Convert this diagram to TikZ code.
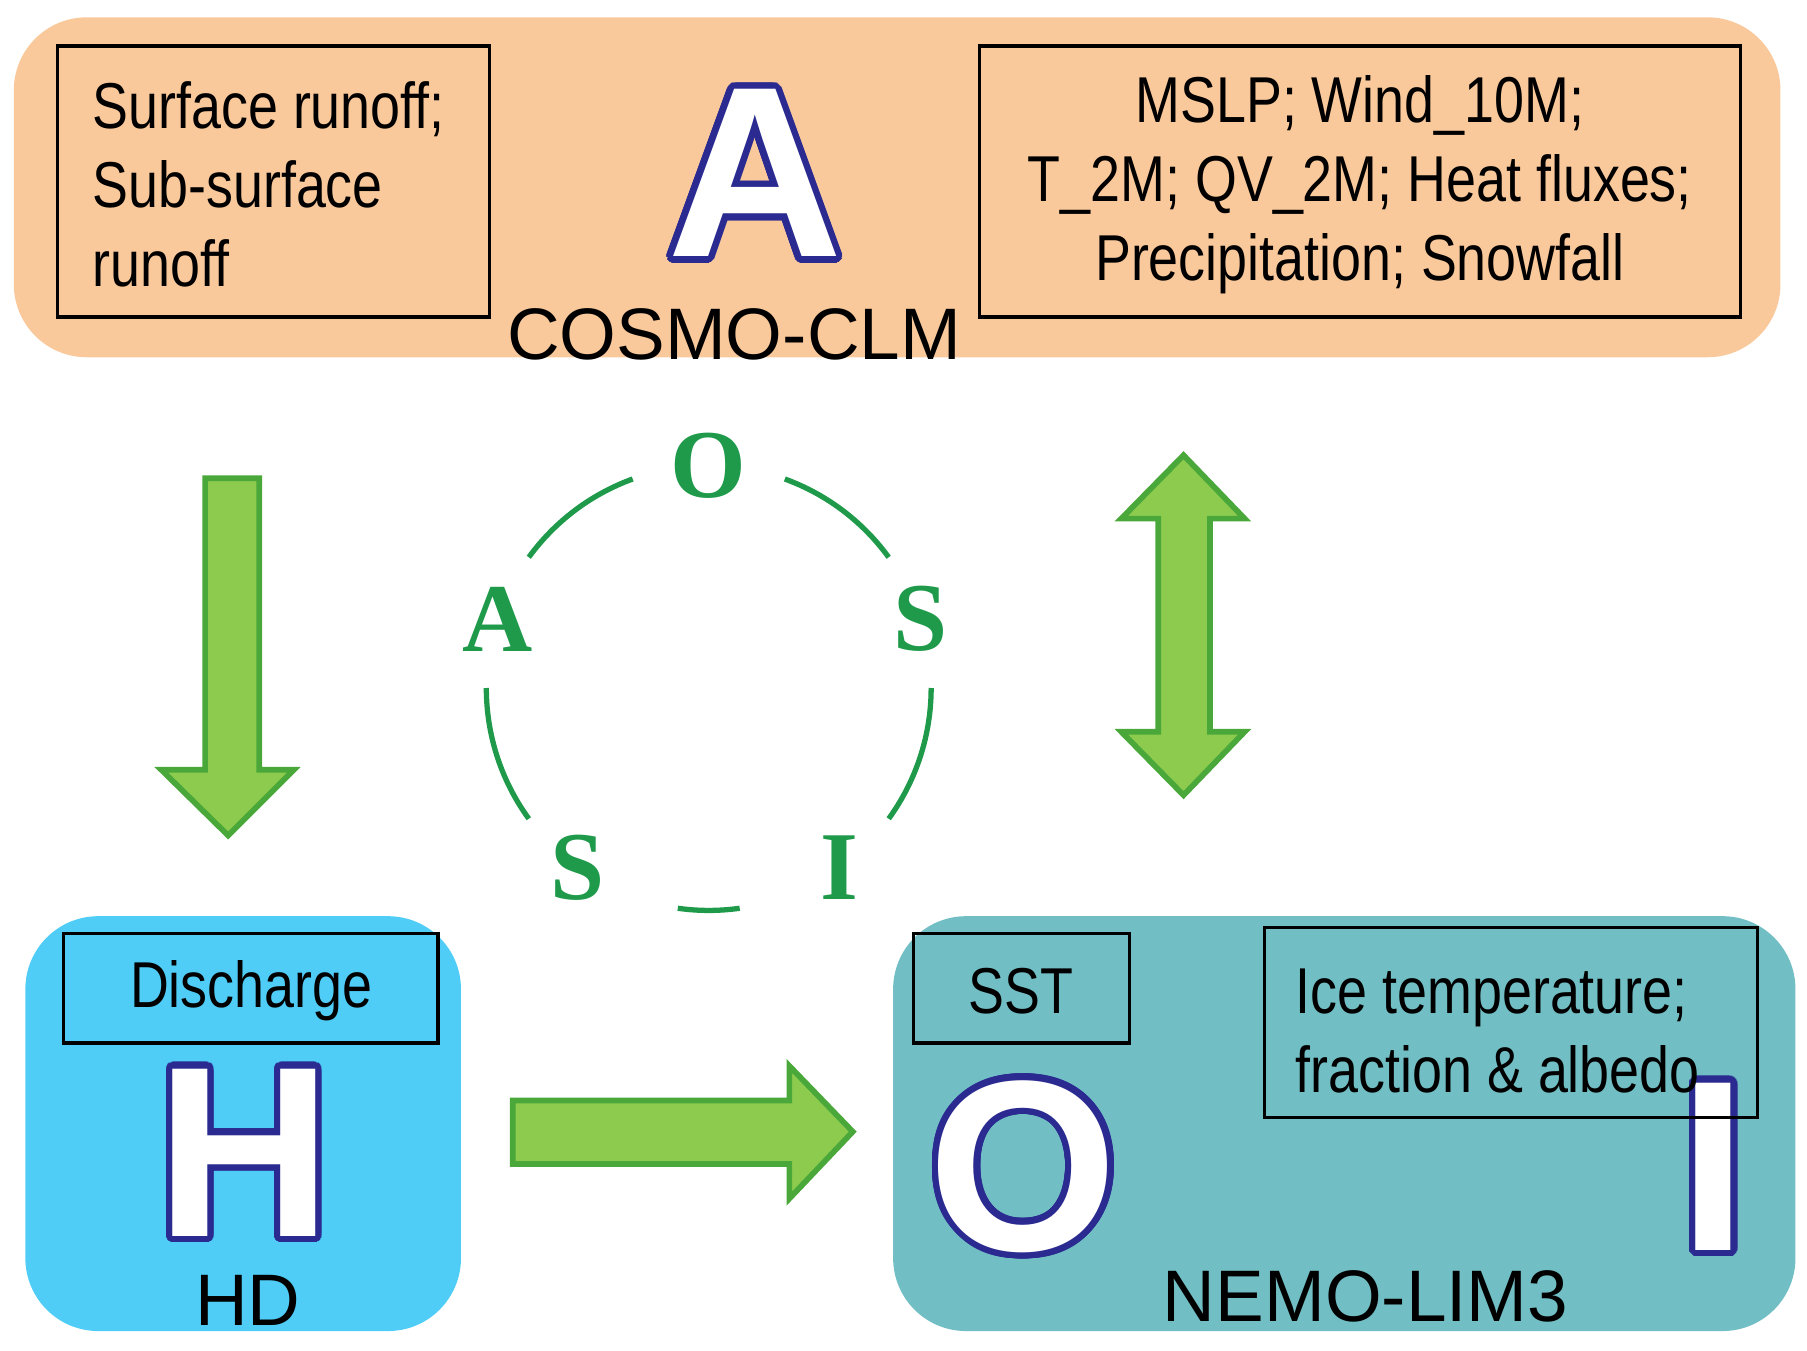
\documentclass[tikz,border=0pt]{standalone}
\usepackage{fontspec}
\setmainfont{Liberation Sans}
\newfontfamily\narrowsf{Liberation Sans}[FakeStretch=0.83]
\newfontfamily\oasisrm{Liberation Serif}
\usepackage{contour}
\usetikzlibrary{positioning,calc}
\definecolor{atmos}{HTML}{F9C89B}
\definecolor{hdblue}{HTML}{4FCDF7}
\definecolor{ocean}{HTML}{71BEC4}
\definecolor{oasisgreen}{HTML}{1E9A4A}
\definecolor{arrowfill}{HTML}{8CCB4E}
\definecolor{arrowline}{HTML}{4AA83A}
\definecolor{letterline}{HTML}{2A2A90}
\contourlength{1.6pt}
\contournumber{32}
\newcommand{\bigletter}[1]{\contour{letterline}{\textcolor{white}{#1}}}

\begin{document}
\begin{tikzpicture}[x=0.01cm,y=-0.01cm,
	model/.style={rounded corners=18pt,draw=none},
	varbox/.style={draw=black,thick},
	vartext/.style={font=\narrowsf\fontsize{16}{19.5}\selectfont,align=left},
	bigl/.style={font=\bfseries\fontsize{60}{60}\selectfont,inner sep=0},
	modname/.style={font=\fontsize{18}{18}\selectfont,inner sep=0},
	oasis/.style={font=\oasisrm\bfseries\fontsize{24}{24}\selectfont,text=oasisgreen,inner sep=0},
	ring/.style={oasisgreen,line width=1.3pt},
	fatarrow/.style={fill=arrowfill,draw=arrowline,line width=1.4pt}]
	\useasboundingbox (0,0) rectangle (1568,1172);

	%atmosphere
	\fill[atmos,model] (12,15) rectangle (1545,310);
	\draw[varbox] (50,40) rectangle (425,275);
	\node[vartext,anchor=north west] (runoff) at (68,58)
		{Surface runoff;\\Sub-surface\\runoff};
	\draw[varbox] (850,40) rectangle (1510,275);
	\node[vartext,align=center] (atmvars) at (1180,160)
		{MSLP; Wind\_10M;\\T\_2M; QV\_2M; Heat fluxes;\\Precipitation; Snowfall};
	\node[bigl] (letA) at (655,153) {\bigletter{A}};
	\node[modname] (cosmo) at (637,290) {COSMO-CLM};

	%hydrology
	\fill[hdblue,model] (22,795) rectangle (400,1155);
	\draw[varbox] (55,810) rectangle (380,905);
	\node[vartext] (discharge) at (218,860) {Discharge};
	\node[bigl] (letH) at (212,1003) {\bigletter{H}};
	\node[modname] (hd) at (215,1128) {HD};

	%ocean and ice
	\fill[ocean,model] (775,795) rectangle (1558,1155);
	\draw[varbox] (793,810) rectangle (980,905);
	\node[vartext] (sst) at (886,860) {SST};
	\node[bigl] (letO) at (888,1015) {\bigletter{O}};
	\node[bigl] (letI) at (1487,1015) {\bigletter{I}};
	\draw[varbox] (1097,805) rectangle (1525,970);
	\node[vartext,anchor=north west] (ice) at (1112,828)
		{Ice temperature;\\fraction \& albedo};
	\node[modname] (nemo) at (1185,1125) {NEMO-LIM3};

	%coupler ring
	\coordinate (ctr) at (615,597);
	\foreach \ang/\txt/\nm in {90/O/oO,18/S/oS,-54/I/oI,-126/S/oSS,162/A/oA}
		\node[oasis] (\nm) at ($(ctr)+(-\ang:193)$) {\txt};
	\foreach \a/\b in {70/36,0/-36,-82/-98,-144/-180,144/110}
		\draw[ring] ($(ctr)+(-\a:193)$) arc[start angle=-\a,end angle=-\b,radius=193];

	%exchanges
	\draw[fatarrow] (178,415) -- (225,415) -- (225,668) -- (255,668) -- (198,725)
		-- (140,668) -- (178,668) -- cycle;
	\draw[fatarrow] (1027,395) -- (1080,450) -- (1050,450) -- (1050,635) -- (1080,635)
		-- (1027,690) -- (973,635) -- (1005,635) -- (1005,450) -- (973,450) -- cycle;
	\draw[fatarrow] (445,955) -- (685,955) -- (685,925) -- (740,982) -- (685,1040)
		-- (685,1010) -- (445,1010) -- cycle;
\end{tikzpicture}
\end{document}
